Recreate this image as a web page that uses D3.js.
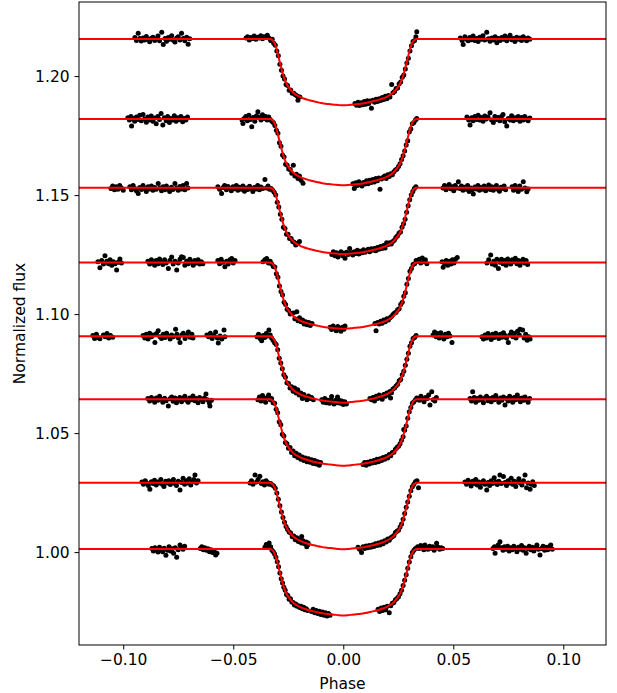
<!DOCTYPE html>
<html><head><meta charset="utf-8">
<script src="https://cdn.jsdelivr.net/npm/d3@7"></script>
<style>body{margin:0;background:#fff}svg{display:block}text{font-family:"DejaVu Sans",sans-serif}</style>
</head><body><svg id="c" width="617" height="693"></svg>
<script>
// Units in the arrays: phase x 1e3, (flux - 1) x 1e4
const xTicks = [-0.10, -0.05, 0.00, 0.05, 0.10];
const xTickLabels = ["\u22120.10", "\u22120.05", "0.00", "0.05", "0.10"];
const yTicks = [1.00, 1.05, 1.10, 1.15, 1.20];
const yTickLabels = ["1.00", "1.05", "1.10", "1.15", "1.20"];
const baselines = [1.2156, 1.1820, 1.1531, 1.1217, 1.0907, 1.0642, 1.0291, 1.0013];
const modelPhase = [-120.1,-33.3,-32.5,-32,-31.5,-31,-30.5,-30,-29.5,-29,-28.5,-28,-27.5,-27,-26.5,-26,-25.5,-25,-24.5,-24,-23,-22,-21,-20,-18,-16,-14,-12,-10,-8,-6,-4,-2,0,2,4,6,8,10,12,14,16,18,20,21,22,23,24,24.5,25,25.5,26,26.5,27,27.5,28,28.5,29,29.5,30,30.5,31,31.5,32,32.5,33.3,119.4];
const modelDrop = [0,0,3,7,14,24,37,54,73,92,110,128,145,160,173,184,193,200,207,212,223,231,237,242,250,256,261,265,269,272,274,276,278,279,278,276,274,272,269,265,261,256,250,242,237,231,223,212,207,200,193,184,173,160,145,128,110,92,73,54,37,24,14,7,3,0,0];

const lc1 = [[-94.7,2162],[-94.0,2150],[-93.2,2180],[-92.5,2158],[-91.8,2147],[-91.0,2160],[-90.2,2152],[-89.5,2166],[-88.7,2155],[-88.0,2144],[-87.2,2159],[-86.5,2163],[-85.7,2150],[-85.0,2157],[-84.2,2168],[-83.5,2149],[-82.5,2184],[-81.8,2133],[-81.0,2158],[-80.3,2146],[-79.5,2162],[-78.8,2155],[-78.0,2170],[-77.2,2151],[-76.5,2143],[-75.7,2160],[-75.0,2165],[-74.2,2152],[-73.5,2180],[-72.7,2158],[-72.0,2148],[-71.2,2163],[-70.5,2134],[-69.8,2157],
[-44.2,2160],[-43.5,2165],[-42.7,2152],[-42.0,2162],[-41.2,2158],[-40.5,2168],[-39.7,2155],[-39.0,2163],[-38.2,2160],[-37.5,2170],[-36.7,2157],[-36.0,2165],[-35.2,2162],[-34.5,2172],[-33.8,2160],
[-33.0,2150],[-32.3,2155],[-31.6,2138],[-30.9,2130],[-30.2,2105],[-29.5,2085],[-28.8,2050],[-28.1,2025],[-27.4,2000],[-26.7,1988],[-26.0,1965],[-25.3,1960],[-24.6,1940],[-23.9,1942],[-23.2,1928],[-22.5,1928],[-21.8,1922],[-21.1,1917],[-20.6,1899],[-20.4,1912],[-19.7,1912],
[5.3,1885],[6.0,1878],[6.7,1890],[7.4,1876],[8.1,1888],[8.8,1880],[9.5,1893],[10.2,1882],[10.9,1896],[11.6,1885],[12.3,1895],[12.8,1865],[13.5,1898],[14.2,1890],[14.9,1903],[15.6,1893],[16.3,1905],[17.0,1897],[17.7,1910],[18.4,1902],[19.1,1915],[19.8,1905],[20.5,1918],[21.2,1912],[22.0,1965],[22.6,1930],[23.3,1935],[24.0,1948],[24.7,1950],[25.4,1968],[26.1,1975],[26.8,1995],[27.5,2005],[28.2,2030],[28.9,2055],[29.6,2075],[30.3,2105],[31.0,2128],[31.7,2145],[32.4,2150],[33.0,2165],[33.4,2186],
[53.2,2160],[54.0,2150],[54.5,2133],[55.3,2165],[56.0,2155],[56.8,2148],[57.5,2162],[58.3,2153],[59.0,2168],[59.8,2150],[60.5,2158],[61.3,2145],[62.0,2163],[62.8,2155],[63.5,2170],[64.3,2152],[65.2,2184],[66.0,2157],[66.7,2146],[67.5,2160],[68.3,2152],[69.0,2165],[69.8,2140],[70.5,2158],[71.3,2150],[72.0,2162],[72.8,2155],[73.5,2168],[74.3,2148],[75.0,2160],[75.8,2172],[76.5,2153],[77.3,2158],[78.0,2145],[78.8,2163],[79.5,2155],[80.3,2160],[81.0,2150],[81.8,2165],[82.5,2157],[83.3,2148],[84.0,2160],[84.8,2155]];

const lc2 = [[-97.9,1825],[-97.2,1815],[-96.5,1830],[-96.2,1790],[-95.5,1822],[-94.8,1810],[-94.0,1828],[-93.3,1818],[-92.5,1835],[-91.8,1812],[-91.0,1839],[-90.3,1820],[-89.5,1806],[-88.8,1828],[-88.0,1815],[-87.3,1832],[-86.5,1810],[-85.8,1824],[-85.0,1800],[-84.3,1830],[-83.5,1818],[-82.8,1843],[-82.0,1794],[-81.3,1825],[-80.5,1812],[-79.8,1830],[-79.0,1805],[-78.3,1822],[-77.5,1815],[-76.8,1833],[-76.0,1810],[-75.3,1825],[-74.5,1817],[-73.8,1830],[-73.0,1808],[-72.3,1822],[-71.5,1815],[-70.8,1828],
[-46.0,1815],[-45.6,1801],[-45.0,1822],[-44.3,1830],[-43.6,1812],[-42.9,1835],[-42.2,1818],[-41.6,1787],[-40.9,1826],[-40.2,1810],[-39.5,1832],[-38.8,1850],[-38.1,1828],[-37.4,1815],[-36.7,1838],[-36.0,1822],[-35.3,1830],[-34.6,1816],[-33.9,1828],
[-33.2,1818],[-32.5,1810],[-31.8,1805],[-31.1,1792],[-30.4,1772],[-29.7,1760],[-29.0,1720],[-28.3,1705],[-27.6,1668],[-26.9,1660],[-26.2,1630],[-25.5,1625],[-24.8,1610],[-24.1,1608],[-23.4,1592],[-22.7,1625],[-22.0,1580],[-21.3,1588],[-20.6,1570],[-19.9,1580],[-19.2,1562],[-18.3,1550],
[4.4,1548],[5.0,1528],[5.7,1552],[6.4,1540],[7.1,1556],[7.8,1545],[8.5,1538],[9.2,1553],[9.9,1547],[10.6,1560],[11.3,1548],[12.0,1562],[12.7,1553],[13.4,1566],[14.1,1555],[14.8,1570],[15.5,1560],[16.2,1572],[16.7,1525],[17.4,1568],[18.1,1575],[18.8,1580],[19.5,1570],[20.2,1585],[20.9,1578],[21.6,1590],[22.3,1585],[23.0,1598],[23.7,1605],[24.4,1610],[25.1,1620],[25.8,1632],[26.5,1650],[27.2,1665],[27.9,1685],[28.6,1710],[29.3,1728],[30.0,1765],[30.7,1778],[31.4,1800],[32.1,1805],[32.8,1815],[33.4,1822],
[56.2,1828],[57.0,1815],[57.6,1794],[58.3,1825],[59.0,1812],[59.8,1830],[60.5,1818],[61.3,1835],[62.0,1815],[62.8,1826],[63.5,1810],[64.3,1832],[65.0,1820],[65.8,1828],[66.7,1846],[67.4,1815],[68.2,1805],[68.9,1830],[69.7,1818],[70.4,1826],[71.2,1812],[71.9,1830],[72.6,1839],[73.4,1808],[74.3,1790],[75.0,1822],[75.8,1815],[76.5,1833],[77.3,1812],[78.0,1825],[78.8,1818],[79.5,1830],[80.3,1810],[81.0,1826],[81.8,1815],[82.5,1830],[83.3,1820],[84.0,1812],[84.8,1824]];

const lc3 = [[-105.6,1528],[-104.8,1538],[-104.0,1522],[-103.2,1535],[-102.4,1525],[-101.6,1540],[-100.8,1530],[-100.0,1520],
[-97.0,1535],[-96.3,1522],[-95.5,1540],[-94.8,1528],[-94.0,1518],[-93.2,1507],[-92.5,1532],[-91.7,1524],[-91.0,1540],[-90.2,1528],[-89.5,1515],[-88.7,1535],[-88.0,1526],[-87.2,1538],[-86.5,1520],[-85.7,1532],[-85.0,1525],[-84.1,1549],[-83.4,1530],[-82.6,1518],[-81.9,1535],[-81.1,1522],[-80.4,1538],[-79.6,1527],[-78.9,1515],[-78.1,1533],[-77.4,1524],[-76.5,1549],[-75.8,1530],[-75.0,1520],[-74.3,1536],[-73.5,1526],[-72.8,1540],[-72.0,1522],[-71.2,1549],[-70.6,1530],
[-57.0,1535],[-56.2,1525],[-55.3,1507],[-54.6,1532],[-53.9,1540],[-53.1,1522],[-52.4,1536],[-51.6,1528],[-50.9,1518],[-50.1,1535],[-49.4,1527],[-48.6,1540],[-47.9,1520],[-47.1,1533],[-46.4,1525],[-45.6,1538],[-44.9,1516],[-44.1,1530],[-43.4,1524],[-42.6,1537],[-41.9,1528],[-41.1,1515],[-40.4,1532],[-39.6,1526],[-38.9,1540],[-38.1,1522],[-37.4,1534],[-36.6,1528],[-35.6,1566],[-34.9,1530],[-34.2,1538],[-33.5,1525],
[-32.8,1528],[-32.1,1520],[-31.4,1512],[-30.7,1500],[-30.0,1470],[-29.3,1450],[-28.6,1420],[-27.9,1398],[-27.2,1365],[-26.5,1360],[-25.8,1335],[-25.1,1335],[-24.4,1318],[-23.7,1318],[-23.0,1305],[-22.3,1302],[-21.6,1290],[-20.6,1298],[-19.9,1305],
[-5.2,1250],[-4.5,1262],[-3.8,1245],[-3.1,1258],[-2.4,1240],[-1.7,1255],[-1.0,1262],[-0.3,1245],[0.4,1256],[0.8,1235],[1.5,1260],[2.2,1250],[2.9,1276],[3.6,1258],[4.3,1248],[5.0,1262],[5.7,1255],[6.4,1268],[7.1,1252],[7.8,1264],[8.5,1258],[9.2,1270],[9.9,1260],[10.6,1266],[11.3,1272],[12.0,1262],[12.7,1275],[13.4,1268],[14.1,1276],[14.8,1266],[15.5,1280],[16.2,1272],[16.9,1284],[17.6,1276],[18.3,1288],[19.0,1278],[19.7,1300],[20.4,1292],[21.1,1300],[21.8,1295],[22.5,1305],[23.2,1310],[23.9,1322],[24.6,1328],[25.3,1340],[26.0,1345],[26.7,1365],[27.4,1380],[28.1,1398],[28.8,1428],[29.5,1455],[30.2,1480],[30.9,1500],[31.6,1515],[32.3,1528],[33.0,1535],
[45.3,1530],[46.0,1540],[46.7,1522],[47.4,1536],[48.1,1545],[48.8,1527],[49.5,1535],[50.2,1518],[50.9,1540],[51.6,1530],[52.3,1556],[53.0,1528],[53.7,1538],[54.4,1520],[55.1,1533],[55.8,1525],[56.5,1540],[57.2,1515],[58.0,1530],[58.6,1522],[59.1,1505],[59.8,1534],[60.5,1526],[61.2,1540],[61.9,1520],[62.6,1532],[63.3,1525],[64.0,1538],[64.7,1518],[65.4,1530],[66.1,1542],[66.8,1524],[67.5,1535],[68.2,1520],[68.9,1530],[69.6,1540],[70.3,1525],[71.0,1516],[71.7,1533],[72.4,1528],[73.1,1538],[73.8,1522],
[76.7,1535],[77.4,1520],[78.1,1540],[78.8,1528],[79.5,1515],[80.2,1538],[81.0,1525],[81.8,1556],[82.6,1530],[83.4,1514],[84.0,1526]];

const lc4 = [[-111.5,1220],[-110.6,1195],[-109.8,1225],[-109.0,1210],[-108.3,1245],[-107.5,1222],[-106.7,1212],[-106.0,1228],[-105.2,1205],[-104.4,1220],[-103.7,1212],[-103.0,1185],[-102.3,1218],[-101.5,1231],[-100.8,1215],
[-88.8,1222],[-88.0,1210],[-87.2,1228],[-86.5,1215],[-85.7,1205],[-85.0,1225],[-84.2,1212],[-83.5,1232],[-82.7,1218],[-82.0,1208],[-81.2,1228],[-80.5,1215],[-79.5,1192],[-78.8,1225],[-78.0,1240],[-77.3,1210],[-76.5,1222],[-75.7,1185],[-75.0,1215],[-74.2,1230],[-73.5,1241],[-72.7,1238],[-72.0,1205],[-71.2,1222],[-70.5,1212],[-69.7,1230],[-69.0,1218],[-68.2,1205],[-67.5,1225],[-66.7,1215],[-66.0,1228],[-65.2,1210],[-64.5,1220],[-63.8,1212],
[-57.0,1225],[-56.2,1212],[-55.5,1230],[-54.7,1218],[-53.8,1199],[-53.0,1222],[-52.3,1210],[-51.5,1228],[-50.7,1234],[-50.0,1215],[-49.2,1225],
[-36.5,1220],[-35.6,1228],[-34.8,1234],[-34.0,1215],[-33.2,1222],
[-32.5,1210],[-31.8,1200],[-31.1,1198],[-30.4,1170],[-29.7,1155],[-29.0,1118],[-28.3,1095],[-27.6,1080],[-26.9,1050],[-26.2,1040],[-25.5,1020],[-24.8,1015],[-24.1,1000],[-23.4,1002],[-22.7,1005],[-22.0,980],[-21.1,1010],[-20.6,972],[-19.9,985],[-19.2,968],[-18.5,975],[-17.8,958],[-17.1,968],[-16.4,955],[-15.7,965],[-15.0,952],[-14.2,960],
[-6.0,945],[-5.3,935],[-4.6,950],[-3.9,940],[-3.2,930],[-2.5,948],[-1.8,938],[-1.1,928],[-0.4,945],[0.3,936],[0.8,950],
[14.4,960],[14.9,930],[15.6,965],[16.3,958],[17.0,970],[17.7,962],[18.4,975],[19.1,968],[19.8,980],[20.5,975],[21.2,985],[21.9,990],[22.6,998],[23.3,1005],[24.0,1008],[24.7,1018],[25.4,1022],[26.1,1040],[26.8,1050],[27.5,1075],[28.2,1090],[28.9,1125],[29.6,1150],[30.3,1180],[31.0,1192],[31.7,1208],[32.4,1212],[33.1,1225],
[33.8,1222],[34.5,1230],[35.2,1215],[35.9,1236],[36.6,1220],[37.3,1228],[38.0,1212],
[44.9,1220],[45.4,1197],[46.1,1212],[46.8,1225],[47.5,1205],[48.2,1222],[48.9,1210],[49.6,1228],[50.3,1215],[51.0,1230],[51.8,1238],
[65.3,1215],[66.1,1228],[67.0,1248],[67.7,1210],[68.4,1222],[69.1,1205],[69.8,1230],[70.5,1192],[71.2,1218],[71.9,1230],[72.6,1212],[73.3,1225],[74.0,1205],[74.7,1232],[75.4,1218],[76.1,1210],[76.8,1228],[77.5,1220],[78.2,1235],[78.9,1212],[79.6,1225],[80.3,1205],[81.0,1222],[81.7,1230],[82.4,1215],[83.1,1225],[83.8,1208]];

const lc5 = [[-113.8,910],[-113.0,898],[-112.2,915],[-111.4,902],[-110.6,896],[-109.0,912],[-108.2,905],[-107.4,918],[-106.6,900],[-105.8,910],[-104.8,903],
[-91.0,910],[-90.2,900],[-89.5,915],[-88.7,895],[-88.0,920],[-87.2,905],[-86.4,912],[-85.6,881],[-84.9,918],[-84.1,930],[-83.3,905],[-82.6,897],[-81.8,915],[-81.0,902],[-80.3,920],[-79.5,908],[-78.7,895],[-78.0,912],[-77.2,905],[-76.2,936],[-75.6,915],[-74.9,900],[-74.2,881],[-73.4,912],[-72.7,920],[-71.9,898],[-71.1,910],[-70.4,925],[-69.6,903],[-68.8,915],[-68.3,900],
[-62.0,912],[-61.2,905],[-60.4,920],[-59.6,898],[-58.8,910],[-58.0,925],[-57.2,900],[-56.8,879],[-56.0,908],[-55.2,895],[-54.2,933],[-53.8,905],
[-39.2,905],[-38.5,915],[-37.8,898],[-37.1,888],[-36.4,910],[-35.7,902],[-35.0,918],[-34.4,908],[-33.8,933],[-33.2,912],
[-32.6,900],[-31.9,890],[-31.2,880],[-30.5,872],[-29.8,850],[-29.1,815],[-28.4,795],[-27.7,770],[-27.0,745],[-26.3,735],[-25.6,712],[-24.9,708],[-24.2,690],[-23.5,695],[-22.8,676],[-22.1,690],[-21.4,668],[-20.7,682],[-20.0,660],[-19.3,668],[-18.6,645],[-17.9,662],[-17.2,650],[-16.5,640],[-15.8,656],[-15.1,645],[-14.4,650],[-13.6,640],
[-9.8,640],[-9.1,630],[-8.4,645],[-7.7,628],[-7.0,638],[-6.3,625],[-5.6,640],[-5.3,654],[-4.9,630],[-4.2,622],[-3.5,638],[-2.8,628],[-2.6,652],[-2.1,640],[-1.4,625],[-0.7,635],[0.0,620],[0.7,632],[1.4,622],
[12.1,645],[12.8,640],[13.5,650],[14.2,635],[14.9,655],[15.6,645],[16.3,660],[17.0,650],[17.7,642],[18.4,662],[19.1,655],[19.8,668],[20.5,660],[21.2,675],[21.5,648],[21.9,670],[22.6,685],[23.3,690],[24.0,698],[24.7,705],[25.4,720],[26.1,725],[26.8,745],[27.5,760],[28.2,785],[28.9,810],[29.6,835],[30.3,865],[31.0,880],[31.7,898],[32.4,902],[33.1,910],
[40.8,912],[41.5,925],[42.2,905],[42.9,918],[43.6,900],[44.3,922],[45.0,910],[45.7,895],[46.4,915],[47.1,905],[47.8,920],[48.5,908],[49.4,881],
[63.0,905],[63.7,895],[64.4,912],[65.1,900],[65.8,918],[66.5,906],[67.2,893],[67.9,915],[68.6,902],[69.3,920],[70.0,908],[70.7,898],[71.4,915],[72.1,903],[72.8,922],[73.5,910],[74.2,900],[75.0,881],[75.7,912],[76.4,925],[77.1,905],[77.8,918],[78.5,900],[79.2,928],[80.0,912],[80.3,936],[81.5,933],[82.2,900],[82.9,915],[83.6,890],[84.3,905],[84.9,895]];

const lc6 = [[-88.8,645],[-88.0,635],[-87.2,650],[-86.5,640],[-85.7,630],[-85.0,648],[-84.2,638],[-83.5,655],[-82.7,642],[-82.0,630],[-81.2,646],[-80.5,636],[-79.5,614],[-78.8,644],[-78.0,652],[-77.3,634],[-76.5,648],[-75.8,628],[-75.0,642],[-74.3,650],[-73.5,632],[-72.8,646],[-72.0,655],[-71.3,638],[-70.5,630],[-69.8,648],[-69.0,640],[-68.3,656],[-67.5,636],[-66.8,645],[-66.0,628],[-65.3,650],[-64.5,640],[-63.8,632],[-63.1,648],[-62.4,664],[-61.7,640],[-60.9,628],[-60.6,614],[-59.9,638],
[-38.8,640],[-38.1,652],[-37.4,635],[-36.7,658],[-36.0,645],[-35.3,630],[-34.6,650],[-33.9,660],[-33.2,640],
[-32.6,645],[-31.9,628],[-31.2,625],[-30.5,600],[-29.8,585],[-29.1,548],[-28.4,535],[-27.7,495],[-27.0,488],[-26.3,460],[-25.6,455],[-24.9,436],[-24.2,440],[-23.5,418],[-22.8,425],[-22.1,405],[-21.4,415],[-20.7,398],[-20.0,408],[-19.3,390],[-18.6,400],[-17.9,385],[-17.2,395],[-16.5,380],[-15.8,392],[-15.1,378],[-14.4,388],[-13.7,372],[-13.0,385],[-12.3,370],[-11.6,380],[-10.9,365],[-10.3,376],
[9.0,368],[9.7,376],[10.4,365],[11.1,378],[11.8,370],[12.5,382],[13.2,374],[13.9,385],[14.6,376],[15.3,390],[16.0,380],[16.7,392],[17.4,385],[18.1,398],[18.8,390],[19.5,402],[20.2,395],[20.9,410],[21.6,405],[22.3,418],[23.0,420],[23.7,432],[24.4,440],[25.1,445],[25.8,455],[26.5,470],[27.2,485],[27.5,515],[27.9,512],[28.6,530],[29.3,562],[30.0,590],[30.7,608],[31.4,625],[32.1,632],[32.8,640],[33.4,648],
[33.9,645],[34.6,638],[35.3,655],[36.0,642],[36.7,632],[37.4,650],[38.1,645],[38.8,660],[39.4,618],[40.2,674],[40.9,640],[41.6,635],[42.3,650],
[57.6,645],[58.3,635],[58.8,674],[59.5,650],[60.2,630],[60.9,645],[61.6,638],[62.3,652],[63.0,640],[63.7,628],[64.4,648],[65.1,655],[65.8,636],[66.5,645],[67.2,632],[67.9,650],[68.6,640],[69.3,658],[70.0,642],[70.7,630],[71.4,648],[72.1,638],[72.8,652],[73.5,618],[74.2,645],[74.9,635],[75.6,655],[76.3,642],[77.0,630],[77.7,650],[78.4,640],[79.1,660],[79.8,645],[80.5,632],[81.2,648],[81.9,638],[82.6,652],[83.3,640],[84.0,630],[84.7,645]];

const lc7 = [[-91.5,295],[-90.8,285],[-90.0,300],[-89.3,290],[-88.6,280],[-87.9,264],[-87.2,296],[-86.5,288],[-85.8,302],[-85.0,282],[-84.3,295],[-83.6,290],[-82.9,305],[-82.2,285],[-81.5,276],[-80.7,298],[-80.0,290],[-79.3,300],[-78.6,284],[-77.9,295],[-77.2,305],[-76.5,288],[-75.8,280],[-75.0,298],[-74.2,261],[-73.5,292],[-72.8,310],[-72.1,285],[-71.4,300],[-70.7,290],[-70.0,308],[-69.3,282],[-68.6,296],[-67.9,305],[-67.4,324],[-66.7,290],[-66.0,300],
[-42.4,290],[-41.7,300],[-41.0,285],[-40.1,324],[-39.4,295],[-38.7,305],[-37.9,319],[-37.2,288],[-36.5,296],[-35.8,282],[-35.1,300],[-34.4,292],[-33.7,285],
[-33.0,288],[-32.3,282],[-31.6,278],[-30.9,268],[-30.2,248],[-29.5,222],[-28.8,195],[-28.1,168],[-27.4,145],[-26.7,125],[-26.0,108],[-25.3,95],[-24.6,85],[-23.9,80],[-23.2,65],[-22.5,68],[-21.8,52],[-21.1,60],[-20.4,45],[-19.7,52],[-19.0,38],[-18.9,66],[-18.3,48],[-17.6,35],[-16.9,42],[-16.6,23],[-16.2,30],[-16.0,38],
[6.7,20],[7.4,12],[8.3,-2],[9.0,22],[9.7,15],[10.4,26],[11.1,18],[11.8,28],[12.5,20],[13.2,30],[13.9,24],[14.6,35],[15.3,28],[16.0,38],[16.7,30],[17.4,42],[18.1,35],[18.8,48],[19.5,42],[20.2,55],[20.9,50],[21.6,60],[22.3,65],[23.0,70],[23.7,82],[24.4,88],[25.1,92],[25.8,105],[26.5,118],[27.2,138],[27.9,162],[28.6,188],[29.3,210],[30.0,235],[30.7,258],[31.4,275],[32.1,285],[32.8,296],[33.5,300],[34.2,270],
[55.3,295],[56.0,285],[56.7,302],[57.4,290],[58.1,278],[58.8,298],[59.5,288],[60.2,305],[60.9,282],[61.6,295],[62.3,272],[63.0,290],[63.7,300],[64.4,285],[65.2,261],[65.8,292],[66.5,280],[67.2,300],[67.9,288],[68.6,312],[69.3,295],[70.0,284],[70.7,298],[71.2,324],[71.9,288],[72.8,318],[73.5,292],[74.2,280],[74.9,300],[75.6,290],[76.3,310],[77.0,285],[77.7,298],[78.4,276],[79.1,295],[79.8,308],[80.5,290],[81.2,282],[81.9,300],[82.6,324],[83.3,270],[84.0,290],[84.9,264],[85.4,285],[86.1,296],[86.8,280]];

const lc8 = [[-87.0,15],[-86.3,5],[-85.6,18],[-84.9,8],[-84.2,0],[-83.5,20],[-82.8,10],[-82.1,2],[-81.4,16],[-80.6,-13],[-79.9,8],[-79.2,22],[-78.5,5],[-77.8,14],[-77.1,-5],[-76.4,18],[-75.7,-22],[-75.0,10],[-74.2,30],[-73.5,20],[-72.8,12],[-72.1,25],
[-65.0,15],[-64.3,22],[-63.6,10],[-62.9,18],[-62.2,8],[-61.5,14],[-60.8,2],[-60.1,10],[-59.4,-2],[-58.7,5],[-58.0,-12],[-57.4,-5],
[-35.6,20],[-35.0,32],[-34.3,25],[-33.7,38],[-33.0,22],
[-32.4,8],[-31.8,2],[-31.2,-8],[-30.6,-22],[-30.0,-40],[-29.4,-62],[-28.8,-88],[-28.2,-112],[-27.6,-130],[-27.0,-148],[-26.4,-160],[-25.8,-178],[-25.2,-182],[-24.6,-198],[-24.0,-196],[-23.4,-210],[-22.8,-212],[-22.2,-222],[-21.6,-218],[-21.0,-228],[-20.4,-225],[-19.8,-233],[-19.2,-228],[-18.6,-238],[-18.0,-232],[-17.4,-242],[-16.8,-238],[-16.2,-245],
[-14.4,-250],[-13.7,-240],[-13.0,-255],[-12.3,-245],[-11.6,-258],[-10.9,-248],[-10.2,-262],[-9.5,-252],[-8.8,-265],[-8.1,-255],[-7.4,-268],[-6.7,-258],[-6.0,-265],
[15.8,-240],[16.5,-250],[17.2,-235],[17.9,-245],[18.6,-232],[19.3,-242],[20.0,-228],[20.9,-255],[21.6,-225],[22.3,-215],[23.0,-212],[23.7,-200],[24.4,-195],[25.1,-188],[25.8,-175],[26.5,-160],[27.2,-140],[27.9,-118],[28.6,-95],[29.3,-68],[30.0,-42],[30.7,-20],[31.4,-2],[32.1,8],[32.8,15],
[33.8,22],[34.5,15],[35.2,28],[35.9,18],[36.6,10],[37.1,30],[37.8,20],[38.5,12],[39.2,25],[39.9,16],[40.6,22],[41.3,8],[42.0,18],[42.4,37],[43.1,20],[43.8,12],[44.5,18],[45.2,15],
[68.0,15],[68.7,22],[69.0,-5],[69.7,20],[70.4,30],[71.2,44],[71.9,18],[72.6,8],[73.3,22],[74.0,12],[74.7,25],[75.4,5],[76.1,18],[76.8,10],[77.5,25],[78.2,15],[78.9,2],[79.6,20],[80.3,12],[81.0,28],[81.7,8],[82.4,18],[83.1,-5],[83.8,15],[84.5,25],[85.2,10],[85.9,20],[86.6,5],[87.3,18],[88.0,30],[88.7,12],[89.4,-12],[90.1,15],[90.8,25],[91.5,8],[92.2,20],[92.9,10],[93.6,22],[94.3,30],[95.0,12]];

const lightCurves = [lc1, lc2, lc3, lc4, lc5, lc6, lc7, lc8];

const W = 617, H = 693;
const L = 79, R = 606, T = 2, B = 645;
const svg = d3.select("#c");
const x = d3.scaleLinear().domain([-0.1201, 0.1194]).range([L, R]);
const y = d3.scaleLinear().domain([0.96097, 1.23113]).range([B, T]);

const plot = svg.append("g");
plot.append("defs").append("clipPath").attr("id","clip").append("rect")
  .attr("x", L).attr("y", T).attr("width", R - L).attr("height", B - T);
const inner = plot.append("g").attr("clip-path", "url(#clip)");

// points
lightCurves.forEach(lc => {
  inner.append("g").selectAll("circle").data(lc).join("circle")
    .attr("cx", d => x(d[0] / 1000))
    .attr("cy", d => y(1 + d[1] / 1e4))
    .attr("r", 2.5).attr("fill", "#000");
});

// model lines
const line = d3.line().x(d => x(d[0])).y(d => y(d[1])).curve(d3.curveMonotoneX);
baselines.forEach(b => {
  const pts = modelPhase.map((p, i) => [p / 1000, b - modelDrop[i] / 1e4]);
  inner.append("path").datum(pts).attr("d", line)
    .attr("fill", "none").attr("stroke", "#ff0000").attr("stroke-width", 2);
});

// axes
const fs = 15.5;
const xAxis = d3.axisBottom(x).tickValues(xTicks).tickFormat((d, i) => xTickLabels[i])
  .tickSizeInner(4.5).tickSizeOuter(0).tickPadding(4.9);
const gx = svg.append("g").attr("transform", `translate(0,${B})`).call(xAxis);
const yAxis = d3.axisLeft(y).tickValues(yTicks).tickFormat((d, i) => yTickLabels[i])
  .tickSizeInner(4.5).tickSizeOuter(0).tickPadding(4.9);
const gy = svg.append("g").attr("transform", `translate(${L},0)`).call(yAxis);
[gx, gy].forEach(g => {
  g.select(".domain").remove();
  g.selectAll("line").attr("stroke", "#000").attr("stroke-width", 1);
  g.selectAll("text").attr("fill", "#000").style("font-size", fs + "px")
    .style("font-family", "'DejaVu Sans', sans-serif");
});

svg.append("rect").attr("x", L).attr("y", T).attr("width", R - L).attr("height", B - T)
  .attr("fill", "none").attr("stroke", "#000").attr("stroke-width", 1);

svg.append("text").attr("x", (L + R) / 2).attr("y", 688.5).attr("text-anchor", "middle")
  .style("font-size", fs + "px").text("Phase");
svg.append("text").attr("transform", `translate(25,${(T + B) / 2}) rotate(-90)`)
  .attr("text-anchor", "middle").style("font-size", fs + "px").text("Normalized flux");
</script></body></html>
